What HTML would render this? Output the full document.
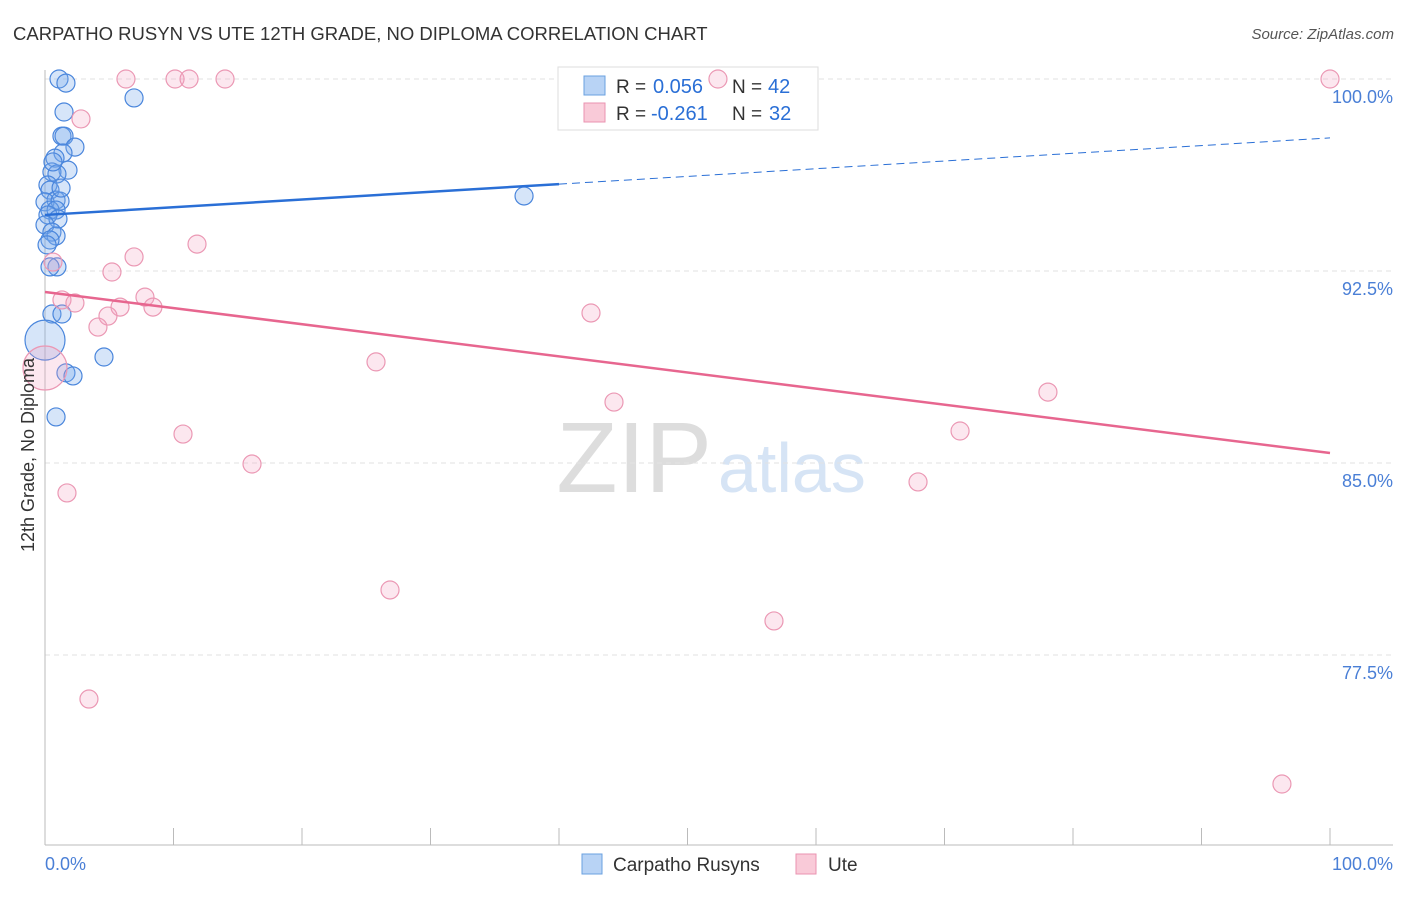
<!DOCTYPE html>
<html><head><meta charset="utf-8"><style>
body{margin:0;background:#fff;font-family:"Liberation Sans",sans-serif}
svg text{font-family:"Liberation Sans",sans-serif}
</style></head><body>
<svg width="1406" height="892">
<text x="13" y="40" font-size="18.5" fill="#333">CARPATHO RUSYN VS UTE 12TH GRADE, NO DIPLOMA CORRELATION CHART</text>
<text x="1394" y="39" font-size="15" fill="#555" text-anchor="end" font-style="italic">Source: ZipAtlas.com</text>
<text x="712" y="492" font-size="100" fill="#ddd" text-anchor="end" font-family="Liberation Serif">ZIP</text>
<text x="718" y="492" font-size="70" fill="#d6e4f5">atlas</text>
<g id="grid"></g><g id="axes"></g>
<g>
<rect x="558" y="67" width="260" height="63" fill="#fff" stroke="#ddd"/>
<rect x="584" y="76" width="21" height="19" fill="#b8d3f5" stroke="#6aa0e0"/>
<rect x="584" y="103" width="21" height="19" fill="#f9cad8" stroke="#ea93b0"/>
<text x="616" y="93" font-size="19" fill="#333">R =</text>
<text x="653" y="93" font-size="20" fill="#2a6fd6">0.056</text>
<text x="732" y="93" font-size="19" fill="#333">N =</text>
<text x="768" y="93" font-size="20" fill="#2a6fd6">42</text>
<text x="616" y="120" font-size="19" fill="#333">R =</text>
<text x="651" y="120" font-size="20" fill="#2a6fd6">-0.261</text>
<text x="732" y="120" font-size="19" fill="#333">N =</text>
<text x="769" y="120" font-size="20" fill="#2a6fd6">32</text>
</g>
<g id="pts"></g><g id="lines"></g>
<text transform="translate(34,455) rotate(-90)" font-size="18" fill="#333" text-anchor="middle">12th Grade, No Diploma</text>
<text x="45" y="870" font-size="18" fill="#4a7fd6">0.0%</text>
<text x="1393" y="870" font-size="18" fill="#4a7fd6" text-anchor="end">100.0%</text>
<g>
<rect x="582" y="854" width="20" height="20" fill="#b8d3f5" stroke="#6aa0e0"/>
<text x="613" y="871" font-size="19" fill="#333">Carpatho Rusyns</text>
<rect x="796" y="854" width="20" height="20" fill="#f9cad8" stroke="#ea93b0"/>
<text x="828" y="871" font-size="19" fill="#333">Ute</text>
</g>
</svg>
<script>
const yTicks=[100,92.5,85,77.5];
const yTickLabels=["100.0%","92.5%","85.0%","77.5%"];
const blueX=[1.09,1.63,6.93,1.48,1.32,1.48,2.33,1.40,0.78,1.79,0.54,0.93,0.23,0.39,0.86,0,1.17,0.39,0.86,0.23,1.01,0,0.54,0.86,0.39,0.16,0.93,0.39,0.54,1.32,0,4.59,1.63,2.18,0.86,37.28,0.62,1.25];
const blueY=[100,99.84,99.26,98.71,97.77,97.77,97.34,97.11,96.91,96.44,96.37,96.29,95.86,95.66,95.27,95.2,95.23,94.88,94.88,94.69,94.53,94.3,94.02,93.87,93.71,93.52,92.66,92.66,90.82,90.82,89.8,89.14,88.52,88.4,86.8,95.43,96.76,95.74];
const blueR=[9,9,9,9,9,9,9,9,9,9,9,9,9,9,9,9,9,9,9,9,9,9,9,9,9,9,9,9,9,9,20,9,9,9,9,9,9,9];
const pinkX=[6.30,10.12,11.21,14.01,52.37,100,2.80,11.83,6.93,5.21,0.62,1.32,2.33,7.78,8.40,5.84,4.90,4.12,42.49,0,25.76,44.28,78.05,10.74,71.21,16.11,67.94,1.71,26.85,56.73,3.42,96.26];
const pinkY=[100,100,100,100,100,100,98.44,93.55,93.05,92.46,92.85,91.37,91.25,91.48,91.09,91.09,90.74,90.31,90.86,88.71,88.95,87.38,87.77,86.13,86.25,84.96,84.26,83.83,80.04,78.83,75.78,72.46];
const pinkR=[9,9,9,9,9,9,9,9,9,9,9,9,9,9,9,9,9,9,9,22,9,9,9,9,9,9,9,9,9,9,9,9];
const blueTrend=[94.69,97.7];
const pinkTrend=[91.68,85.39];
const NS="http://www.w3.org/2000/svg";
const sx=v=>45+v*12.85, sy=v=>79+(100-v)*25.6;
function mk(t,a,p){const e=document.createElementNS(NS,t);for(const k in a)e.setAttribute(k,a[k]);p.appendChild(e);return e;}
const grid=document.getElementById('grid'),axes=document.getElementById('axes'),pts=document.getElementById('pts'),lines=document.getElementById('lines');
yTicks.forEach((t,i)=>{
 const l=mk('line',{x1:45,x2:1393,y1:sy(t),y2:sy(t),stroke:'#e2e2e2','stroke-dasharray':'5,4'},grid);
 
 
 const tx=mk('text',{x:1393,y:sy(t)+24,'font-size':18,fill:'#4a7fd6','text-anchor':'end'},grid);
 tx.textContent=yTickLabels[i];
 
 
});
mk('line',{x1:45,x2:45,y1:70,y2:845,stroke:'#bbb'},axes);
mk('line',{x1:45,x2:1393,y1:845,y2:845,stroke:'#bbb'},axes);
for(let i=0;i<=10;i++){const t=mk('line',{x1:sx(i*10),x2:sx(i*10),y1:828,y2:845,stroke:'#bbb'},axes);
 
 }
blueX.forEach((x,i)=>{const c=mk('circle',{cx:sx(x),cy:sy(blueY[i]),r:blueR[i],fill:'rgba(120,170,235,0.3)',stroke:'#4a86dc','stroke-width':1.2},pts);
 
 });
pinkX.forEach((x,i)=>{const c=mk('circle',{cx:sx(x),cy:sy(pinkY[i]),r:pinkR[i],fill:'rgba(245,160,190,0.25)',stroke:'#eb98b4','stroke-width':1.2},pts);
 
 });
const bAt=x=>blueTrend[0]+(blueTrend[1]-blueTrend[0])*x/100;
const b1=mk('line',{x1:sx(0),y1:sy(bAt(0)),x2:sx(40),y2:sy(bAt(40)),stroke:'#2a6fd6','stroke-width':2.5},lines);


const b2=mk('line',{x1:sx(40),y1:sy(bAt(40)),x2:sx(100),y2:sy(bAt(100)),stroke:'#2a6fd6','stroke-width':1,'stroke-dasharray':'8,5'},lines);


const p1=mk('line',{x1:sx(0),y1:sy(pinkTrend[0]),x2:sx(100),y2:sy(pinkTrend[1]),stroke:'#e7668f','stroke-width':2.5},lines);


</script>
</body></html>
